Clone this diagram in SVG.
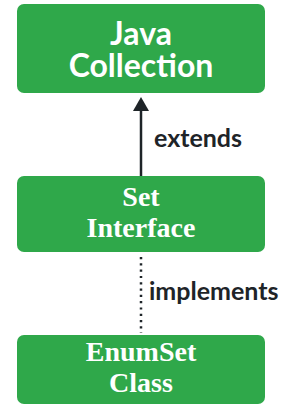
<svg xmlns="http://www.w3.org/2000/svg" width="287" height="420" viewBox="0 0 287 420">
<defs>
<style>
.box{fill:#2fa84a;}
.sans{font-family:Lato,"Noto Sans",sans-serif;font-weight:bold;fill:#ffffff;text-anchor:middle;font-size:32px;}
.serif{font-family:"Liberation Serif","Times New Roman",serif;font-weight:bold;fill:#ffffff;text-anchor:middle;font-size:28px;}
.lbl{font-family:Lato,"Noto Sans",sans-serif;font-weight:bold;fill:#1e2428;font-size:25px;}
.edge{stroke:#1e2428;stroke-width:2.5;fill:none;}
</style>
</defs>
<rect width="287" height="420" fill="#ffffff"/>
<g id="connectors">
<line class="edge" x1="141" y1="176" x2="141" y2="111"/>
<path d="M133,111 L141,97 L149,111 Z" fill="#1e2428"/>
<line class="edge" x1="141" y1="257" x2="141" y2="333" stroke-dasharray="2.2 4.1" stroke-width="2.2"/>
<text class="lbl" x="154" y="147">extends</text>
<text class="lbl" x="149" y="300">implements</text>
</g>
<g id="java-collection">
<rect class="box" x="17" y="4" width="248" height="89" rx="7"/>
<text class="sans" x="141" y="45">Java</text>
<text class="sans" x="141" y="77">Collection</text>
</g>
<g id="set-interface">
<rect class="box" x="17" y="176" width="248" height="76" rx="7"/>
<text class="serif" x="141" y="206">Set</text>
<text class="serif" x="141" y="237">Interface</text>
</g>
<g id="enumset-class">
<rect class="box" x="17" y="335" width="248" height="69" rx="7"/>
<text class="serif" x="141" y="361">EnumSet</text>
<text class="serif" x="141" y="392">Class</text>
</g>
</svg>
